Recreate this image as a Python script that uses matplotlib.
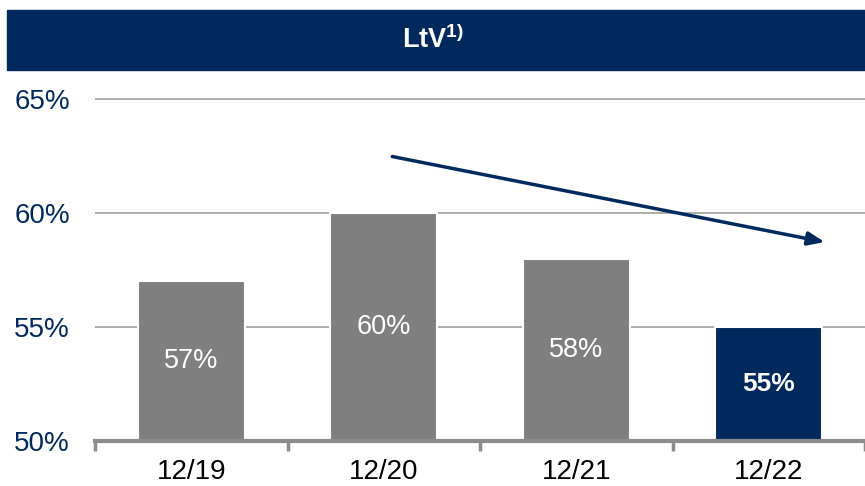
import matplotlib.pyplot as plt
from matplotlib.patches import Rectangle

plt.rcParams['font.family'] = ['Liberation Sans', 'DejaVu Sans']

periods = ['12/19', '12/20', '12/21', '12/22']
ltv = [57, 60, 58, 55]
labels = ['57%', '60%', '58%', '55%']
yticks = [50, 55, 60, 65]

navy = '#002A5E'
grey = '#7F7F7F'

fig = plt.figure(figsize=(8.65, 4.86), dpi=100)

# Title banner
fig.patches.append(Rectangle((7 / 865, 416 / 486), 1 - 7 / 865, 60 / 486,
                             transform=fig.transFigure, color=navy, zorder=0))
fig.text(0.5, 446 / 486, r'LtV$^{\mathregular{1)}}$', color='white', fontsize=19.5,
         fontweight='bold', ha='center', va='center')

ymax = 65.2
top = (486 - (441 - (ymax - 50) * 22.8)) / 486
ax = fig.add_axes([95 / 865, 45 / 486, 1 - 95 / 865, top - 45 / 486])

colors = [grey, grey, grey, navy]
x = range(len(periods))
ax.bar(x, [v - 50 for v in ltv], bottom=50, width=0.555, color=colors,
       edgecolor='white', linewidth=1.5, zorder=2)

for i, (v, lab) in enumerate(zip(ltv, labels)):
    bold = i == len(ltv) - 1
    ax.text(i, (v + 50) / 2, lab, color='white', fontsize=19.5 if not bold else 19,
            ha='center', va='center',
            fontweight='bold' if bold else 'normal', zorder=3)

ax.set_xlim(-0.5, 3.46)
ax.set_ylim(50, ymax)
ax.set_yticks(yticks)
ax.set_yticklabels([f'{t}%' for t in yticks], color=navy, fontsize=20)
ax.yaxis.grid(True, color='#A6A6A6', linewidth=1.3, zorder=1)
ax.set_axisbelow(True)
ax.tick_params(axis='y', length=0, pad=18)

ax.set_xticks([i - 0.5 for i in range(len(periods) + 1)])
ax.set_xticklabels([])
ax.set_xticks(list(x), minor=True)
ax.set_xticklabels(periods, minor=True, fontsize=20, color='black')
ax.tick_params(axis='x', which='major', length=7, width=2.5, color='#8C8C8C')
ax.tick_params(axis='x', which='minor', length=0, pad=13)

for s in ['top', 'right', 'left']:
    ax.spines[s].set_visible(False)
ax.spines['bottom'].set_color('#8C8C8C')
ax.spines['bottom'].set_linewidth(3)

# Trend arrow
ax.annotate('', xy=(3.305, 58.7), xytext=(1.03, 62.5),
            arrowprops=dict(arrowstyle='-|>,head_length=1.0,head_width=0.4',
                            color=navy, linewidth=2.5), zorder=4)

fig.savefig('out.png', dpi=100)
